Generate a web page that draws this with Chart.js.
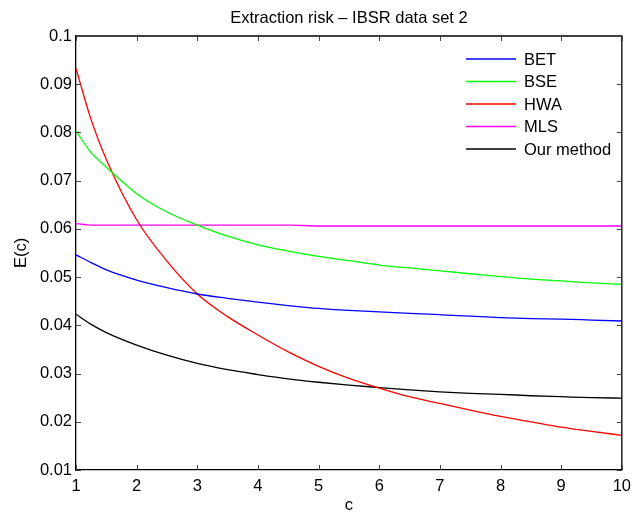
<!DOCTYPE html>
<html>
<head>
<meta charset="utf-8">
<script src="https://cdn.jsdelivr.net/npm/chart.js@4/dist/chart.umd.min.js"></script>
<style>
  body { margin: 0; background: #fff; }
  canvas { display: block; }
</style>
</head>
<body>
<canvas id="myChart" width="638" height="513"></canvas>
<script>
const cValues = [1, 1.25, 1.5, 2, 2.5, 3, 3.5, 4, 4.5, 5, 5.5, 6, 6.5, 7, 7.5, 8, 8.5, 9, 9.5, 10];
const bet = [0.0546, 0.053, 0.0515, 0.0494, 0.0478, 0.0465, 0.0456, 0.0448, 0.0441, 0.0435, 0.0431, 0.0428, 0.0425, 0.0422, 0.0419, 0.0416, 0.0414, 0.0413, 0.0411, 0.0409];
const bse = [0.0803, 0.0758, 0.0728, 0.0673, 0.0635, 0.0608, 0.0585, 0.0567, 0.0554, 0.0543, 0.0534, 0.0525, 0.0519, 0.0513, 0.0507, 0.0501, 0.0496, 0.0492, 0.0488, 0.0485];
const hwa = [0.0933, 0.0826, 0.0744, 0.0619, 0.0533, 0.0465, 0.0418, 0.038, 0.0345, 0.0315, 0.029, 0.027, 0.0252, 0.0238, 0.0224, 0.0211, 0.02, 0.0189, 0.018, 0.0172];
const mls = [0.0611, 0.0608, 0.0608, 0.0608, 0.0608, 0.0608, 0.0608, 0.0608, 0.0608, 0.0606, 0.0606, 0.0606, 0.0606, 0.0606, 0.0606, 0.0606, 0.0606, 0.0606, 0.0606, 0.0606];
const ours = [0.0423, 0.0402, 0.0385, 0.0359, 0.0338, 0.0321, 0.0308, 0.0298, 0.0289, 0.0282, 0.0276, 0.0271, 0.0266, 0.0262, 0.0259, 0.0257, 0.0254, 0.0252, 0.025, 0.0249];
const seriesNames = ["BET", "BSE", "HWA", "MLS", "Our method"];
const seriesColors = ["#0000ff", "#00ff00", "#ff0000", "#ff00ff", "#000000"];
const xTicks = [1, 2, 3, 4, 5, 6, 7, 8, 9, 10];
const yTicks = [0.01, 0.02, 0.03, 0.04, 0.05, 0.06, 0.07, 0.08, 0.09, 0.1];

const FONT = "'Liberation Sans', Arial, Helvetica, sans-serif";
const FS = 16.5;

function toPoints(vals) {
  return vals.map(function (v, i) { return { x: cValues[i], y: v }; });
}

const allSeries = [bet, bse, hwa, mls, ours];

// inside ticks, box, title, axis labels and legend, matlab style
const matlabDecor = {
  id: "matlabDecor",
  afterDraw(chart) {
    const ctx = chart.ctx;
    const a = chart.chartArea;
    const xs = chart.scales.x;
    const ys = chart.scales.y;
    ctx.save();
    ctx.strokeStyle = "#000";
    ctx.lineWidth = 1.3;
    ctx.beginPath();
    ctx.moveTo(a.left, a.top);
    ctx.lineTo(a.right, a.top);
    ctx.lineTo(a.right, a.bottom);
    ctx.stroke();

    ctx.strokeStyle = "#444";
    ctx.lineWidth = 1;
    const tl = 5;
    xTicks.forEach(function (t) {
      const px = Math.round(xs.getPixelForValue(t)) + 0.5;
      ctx.beginPath();
      ctx.moveTo(px, a.bottom); ctx.lineTo(px, a.bottom - tl);
      ctx.moveTo(px, a.top); ctx.lineTo(px, a.top + tl);
      ctx.stroke();
    });
    yTicks.forEach(function (t) {
      const py = Math.round(ys.getPixelForValue(t)) + 0.5;
      ctx.beginPath();
      ctx.moveTo(a.left, py); ctx.lineTo(a.left + tl, py);
      ctx.moveTo(a.right, py); ctx.lineTo(a.right - tl, py);
      ctx.stroke();
    });

    ctx.fillStyle = "#000";
    ctx.font = FS + "px " + FONT;
    ctx.textAlign = "center";
    ctx.textBaseline = "alphabetic";
    ctx.fillText("Extraction risk \u2013 IBSR data set 2", (a.left + a.right) / 2, 23);
    ctx.fillText("c", (a.left + a.right) / 2, 510);

    ctx.save();
    ctx.translate(26, (a.top + a.bottom) / 2);
    ctx.rotate(-Math.PI / 2);
    ctx.fillText("E(c)", 0, 0);
    ctx.restore();

    // legend
    ctx.textAlign = "left";
    ctx.textBaseline = "middle";
    seriesNames.forEach(function (name, i) {
      const y = 59 + i * 22.5;
      ctx.strokeStyle = seriesColors[i];
      ctx.lineWidth = 1.3;
      ctx.beginPath();
      ctx.moveTo(466, y); ctx.lineTo(516, y);
      ctx.stroke();
      ctx.fillStyle = "#000";
      ctx.fillText(name, 524, y + 1);
    });
    ctx.restore();
  }
};

const ctx = document.getElementById("myChart");
new Chart(ctx, {
  type: "line",
  data: {
    datasets: allSeries.map(function (vals, i) {
      return {
        label: seriesNames[i],
        data: toPoints(vals),
        borderColor: seriesColors[i],
        backgroundColor: seriesColors[i],
        borderWidth: 1.3,
        pointRadius: 0,
        cubicInterpolationMode: "monotone",
        fill: false,
      };
    }),
  },
  options: {
    responsive: false,
    animation: false,
    layout: { padding: { top: 36, right: 12, bottom: 0, left: 0 } },
    plugins: {
      legend: { display: false },
      title: { display: false },
      tooltip: { enabled: false },
    },
    scales: {
      x: {
        type: "linear",
        min: 1,
        max: 10,
        afterFit: function (scale) { scale.height = 43; },
        afterBuildTicks: function (scale) { scale.ticks = xTicks.map(function (v) { return { value: v }; }); },
        grid: { drawOnChartArea: false, drawTicks: false },
        border: { display: true, color: "#000", width: 1.3 },
        ticks: {
          color: "#000",
          padding: 7,
          maxRotation: 0,
          font: { family: FONT, size: FS },
        },
      },
      y: {
        min: 0.01,
        max: 0.1,
        afterFit: function (scale) { scale.width = 76; },
        afterBuildTicks: function (scale) { scale.ticks = yTicks.map(function (v) { return { value: v }; }); },
        grid: { drawOnChartArea: false, drawTicks: false },
        border: { display: true, color: "#000", width: 1.3 },
        ticks: {
          color: "#000",
          padding: 4,
          font: { family: FONT, size: FS },
          callback: function (value) { return String(parseFloat(value.toFixed(2))); },
        },
      },
    },
  },
  plugins: [matlabDecor],
});
</script>
</body>
</html>
